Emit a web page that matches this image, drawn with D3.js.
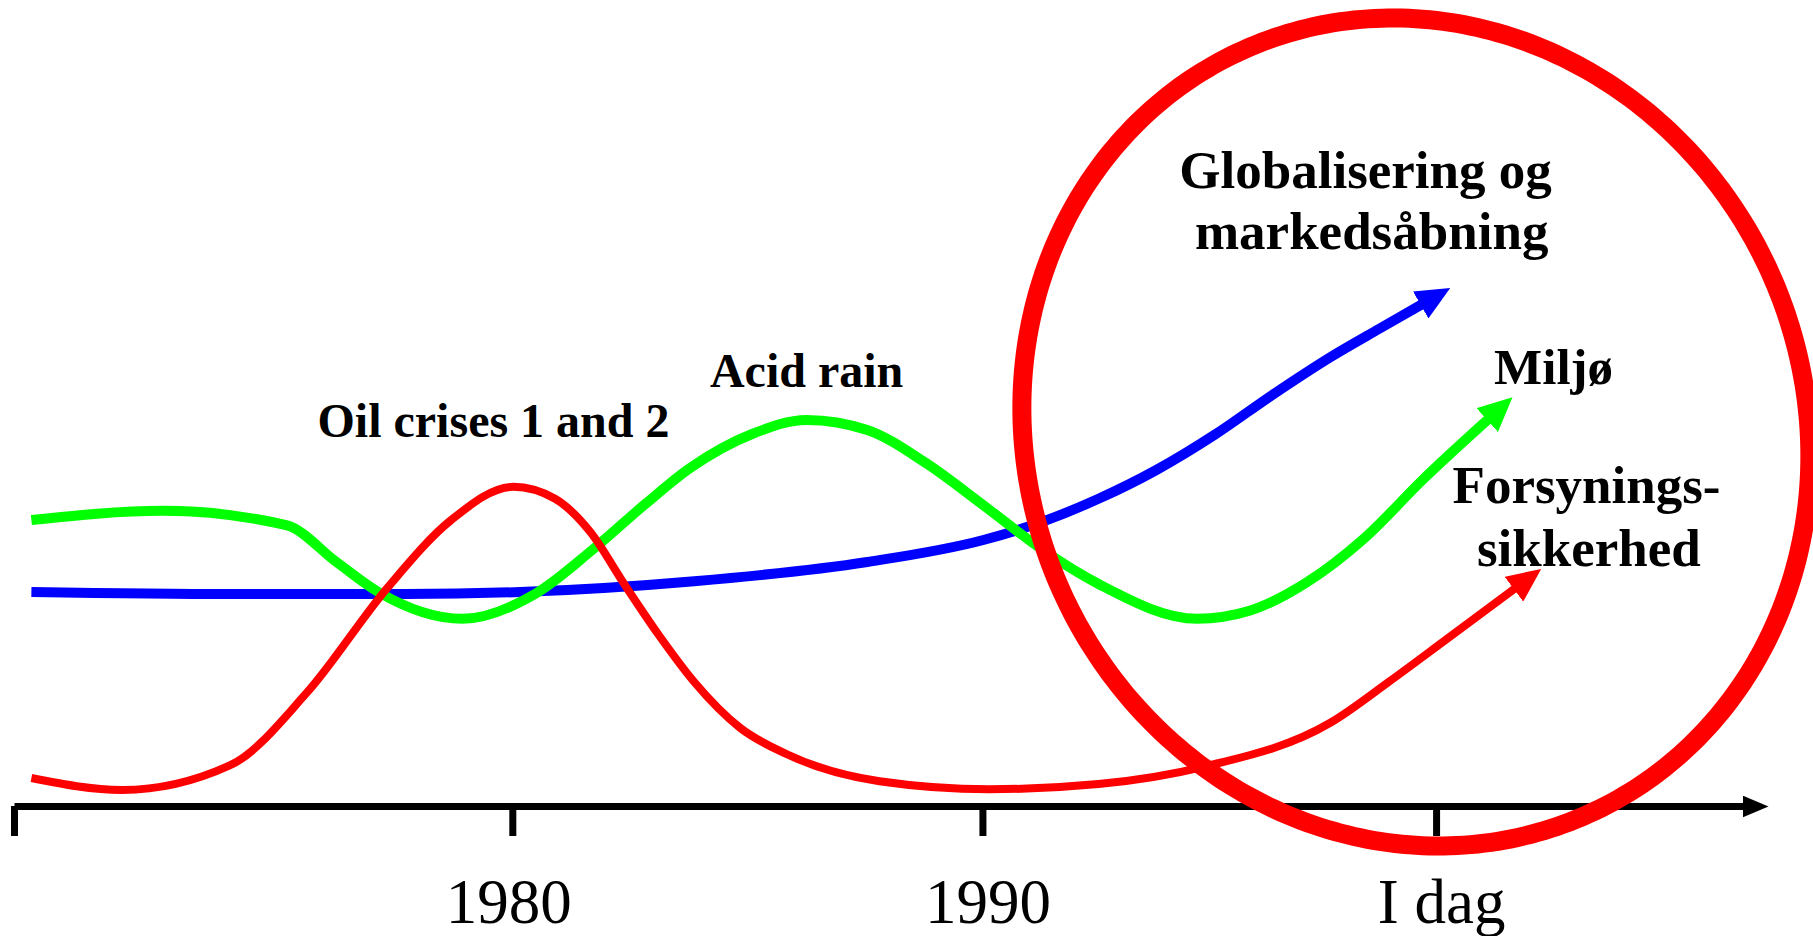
<!DOCTYPE html>
<html>
<head>
<meta charset="utf-8">
<script src="https://cdnjs.cloudflare.com/ajax/libs/d3/7.8.5/d3.min.js"></script>
<style>
  body { margin: 0; background: #fff; }
  svg { display: block; }
</style>
</head>
<body>
<div id="graph"></div>
<script>
// x axis ticks (years) and their labels
var tickYears = [1969.4, 1980, 1990, 1999.65];
var tickLabels = ["", "1980", "1990", "I dag"];
var tickLabelDx = [0, -4, 5, 5];

// Forsyningssikkerhed (red) - oil crises bump
var redYears  = [1969.77, 1971.7, 1974.0, 1975.62, 1977.36, 1978.7, 1980.02, 1980.91, 1981.66, 1982.38, 1983.13, 1983.87, 1984.85, 1985.83, 1987.81, 1990.15, 1992.47, 1994.7, 1997.4, 1998.64, 1999.85, 2001.34];
var redLevels = [3.5, 2.0, 5.1, 14.1, 27.4, 35.75, 39.9, 38.4, 34.25, 27.75, 21.25, 15.5, 9.75, 6.5, 3.1, 2.1, 2.75, 4.9, 10.4, 15.5, 20.75, 27.25];

// Miljø (green) - acid rain bump
var greenYears  = [1969.77, 1972.57, 1975.19, 1976.28, 1977.15, 1978.94, 1980.51, 1981.7, 1982.8, 1983.77, 1985.1, 1986.26, 1987.55, 1988.79, 1990.02, 1991.26, 1992.47, 1994.57, 1995.68, 1996.91, 1998.13, 1999.36, 2000.77];
var greenLevels = [35.75, 36.9, 35.1, 30.4, 26.75, 23.4, 26.6, 32, 37.6, 42.2, 46.5, 48.25, 47, 42.9, 37.6, 32.1, 27.75, 23.4, 24.4, 28, 33.5, 40.75, 48.4];

// Globalisering og markedsåbning (blue)
var blueYears  = [1969.77, 1974.02, 1977.72, 1980.17, 1983.87, 1987.55, 1990.02, 1991.26, 1992.47, 1993.7, 1994.94, 1996.17, 1997.4, 1998.47, 1999.36];
var blueLevels = [26.75, 26.5, 26.5, 26.75, 28.1, 30.5, 33.25, 35.5, 38.4, 42, 46.4, 51.4, 56.1, 59.75, 62.75];

// text labels
var labelTexts  = ["Globalisering og", "markedsåbning", "Acid rain", "Oil crises 1 and 2", "Miljø", "Forsynings-", "sikkerhed"];
var labelYears  = [1998.15, 1998.28, 1986.26, 1979.6, 2002.15, 2002.85, 2002.9];
var labelLevels = [77.25, 69.6, 52.4, 46.1, 52.75, 37.9, 30];
var labelSizes  = [53, 53, 48, 48, 51, 53, 53];

var w = 1813;
var h = 936;

var x = d3.scaleLinear().domain([1969.4, 2006.2]).range([14, 1744]);
var y = d3.scaleLinear().domain([0, 100]).range([806, 6]);

var svg = d3.select("#graph")
            .append("svg")
            .attr("width", w)
            .attr("height", h);

// arrow markers
var defs = svg.append("defs");
function addMarker(id, color, len, wid) {
  defs.append("marker")
    .attr("id", id)
    .attr("markerUnits", "userSpaceOnUse")
    .attr("viewBox", (-2) + " " + (-wid / 2) + " " + (len + 2) + " " + wid)
    .attr("refX", 0)
    .attr("refY", 0)
    .attr("markerWidth", len + 2)
    .attr("markerHeight", wid)
    .attr("orient", "auto")
    .append("path")
    .attr("d", "M-2," + (-wid / 2) + "L" + len + ",0L-2," + (wid / 2) + "Z")
    .attr("fill", color);
}
addMarker("arrow-axis", "#000", 24, 22);
addMarker("arrow-red", "#ff0000", 32, 31);
addMarker("arrow-green", "#00ff00", 32, 32);
addMarker("arrow-blue", "#0000ff", 32, 31);

// axis
var axis = d3.axisBottom(x)
  .tickValues(tickYears)
  .tickFormat(function(d, i) { return tickLabels[i]; })
  .tickSize(30)
  .tickSizeOuter(0);

var gAxis = svg.append("g")
  .attr("transform", "translate(0," + y(0) + ")")
  .call(axis);

gAxis.select(".domain")
  .attr("stroke", "#000")
  .attr("stroke-width", 7)
  .attr("marker-end", "url(#arrow-axis)");
gAxis.selectAll(".tick line")
  .attr("stroke", "#000")
  .attr("stroke-width", 7);
gAxis.selectAll(".tick text")
  .attr("x", function(d, i) { return tickLabelDx[i]; })
  .attr("y", 117)
  .attr("dy", 0)
  .attr("fill", "#000")
  .attr("font-family", "'Liberation Serif', 'Times New Roman', serif")
  .attr("font-size", "63px");

// curves
var line = d3.line()
  .x(function(d) { return x(d[0]); })
  .y(function(d) { return y(d[1]); })
  .curve(d3.curveMonotoneX);

var series = [
  { years: blueYears,  levels: blueLevels,  color: "#0000ff", width: 10, marker: "arrow-blue" },
  { years: greenYears, levels: greenLevels, color: "#00ff00", width: 10, marker: "arrow-green" },
  { years: redYears,   levels: redLevels,   color: "#ff0000", width: 8,  marker: "arrow-red" }
];

svg.selectAll("path.curve")
  .data(series)
  .enter()
  .append("path")
    .attr("class", "curve")
    .attr("d", function(s) { return line(d3.zip(s.years, s.levels)); })
    .attr("fill", "none")
    .attr("stroke", function(s) { return s.color; })
    .attr("stroke-width", function(s) { return s.width; })
    .attr("marker-end", function(s) { return "url(#" + s.marker + ")"; });

// big red ring around "today"
var ringCx = x(1999.22), ringCy = y(46.75);
var ringW = 394, ringH = 414, ringSkew = 24;
var ringPts = d3.range(0, 2 * Math.PI, Math.PI / 180).map(function(t) {
  return [ringCx + ringW * Math.cos(t),
          ringCy + ringSkew * Math.cos(t) + Math.sqrt(ringH * ringH - ringSkew * ringSkew) * Math.sin(t)];
});
svg.append("path")
  .attr("d", d3.line().curve(d3.curveLinearClosed)(ringPts))
  .attr("fill", "none")
  .attr("stroke", "#ff0000")
  .attr("stroke-width", 19);

// labels
svg.selectAll("text.label")
  .data(labelTexts)
  .enter()
  .append("text")
    .attr("class", "label")
    .text(function(d) { return d; })
    .attr("x", function(d, i) { return x(labelYears[i]); })
    .attr("y", function(d, i) { return y(labelLevels[i]); })
    .attr("text-anchor", "middle")
    .attr("font-family", "'Liberation Serif', 'Times New Roman', serif")
    .attr("font-weight", "bold")
    .attr("font-size", function(d, i) { return labelSizes[i] + "px"; })
    .attr("fill", "#000");
</script>
</body>
</html>
